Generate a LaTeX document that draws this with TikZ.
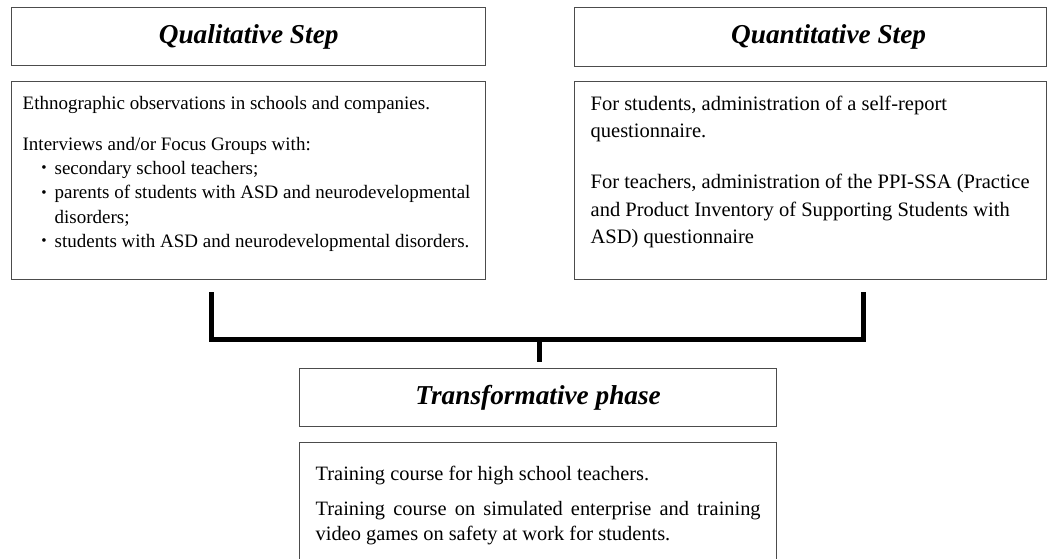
\documentclass[tikz,border=0pt]{standalone}
\usepackage{fontspec}
\usepackage{graphicx}
\setmainfont{Liberation Serif}
\hyphenpenalty=10000
\newcommand{\listdot}{\noindent\llap{\raisebox{1.5pt}{\scalebox{0.8}{\textbullet}}\hspace{8pt}}}

\begin{document}
\begin{tikzpicture}[x=1pt, y=1pt,
    headbox/.style = {draw=black!70, line width=1.3pt, inner sep=0pt,
                      font=\fontsize{27.3}{30}\selectfont\bfseries\itshape},
    textbox/.style = {draw=black!70, line width=1.3pt},
    joinline/.style = {line width=5pt, black}]
    \useasboundingbox (0,0) rectangle (1047,-558);

    \node[headbox, anchor=north west, minimum width=474pt, minimum height=58pt] (qualhead) at (11,-7) {Qualitative Step\hspace{27pt}};
    \node[headbox, anchor=north west, minimum width=472pt, minimum height=59pt] (quanthead) at (574,-7) {\hspace{36pt}Quantitative Step};
    \node[headbox, anchor=north west, minimum width=477pt, minimum height=58pt] (transhead) at (299,-368) {Transformative phase};

    \node[textbox, anchor=north west, inner xsep=11pt, inner ysep=15pt] (qualbox) at (11,-81) {\parbox[t][168pt][t]{452pt}{\fontsize{19}{24.3}\selectfont\raggedright
        Ethnographic observations in schools and companies.\par\vspace{16pt}
        Interviews and/or Focus Groups with:\par
        {\leftskip=32pt
        \listdot secondary school teachers;\par
        \listdot parents of students with ASD and neurodevelopmental disorders;\par
        \listdot students with ASD and neurodevelopmental disorders.\par}}};
    \node[textbox, anchor=north west, inner xsep=16pt, inner ysep=14pt] (quantbox) at (574,-81) {\parbox[t][170pt][t]{440pt}{\fontsize{20.5}{27.5}\selectfont\raggedright
        For students, administration of a self-report questionnaire.\par\vspace{23.5pt}
        For teachers, administration of the PPI-SSA (Practice and Product Inventory of Supporting Students with ASD) questionnaire}};
    \node[textbox, anchor=north west, inner xsep=16pt, inner ysep=23pt] (transbox) at (299,-442) {\parbox[t]{445pt}{\fontsize{20.4}{25}\selectfont\tolerance=9999
        Training course for high school teachers.\par\vspace{10pt}
        Training course on simulated enterprise and training video games on safety at work for students.}};

    \coordinate (qualfoot) at (211,-292);
    \coordinate (quantfoot) at (863,-292);
    \coordinate (joint) at (539,-339);
    \draw[joinline] (qualfoot) |- (joint) -| (quantfoot);
    \draw[joinline, shorten >=6pt] (joint) -- (joint |- transhead.north);
\end{tikzpicture}
\end{document}
